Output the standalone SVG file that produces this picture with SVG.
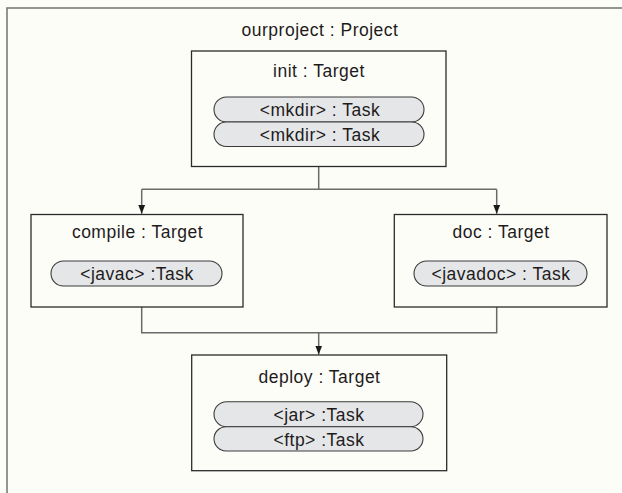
<svg xmlns="http://www.w3.org/2000/svg" width="622" height="493" viewBox="0 0 622 493">
  <style>
    .bg { fill: #fdfdf8; }
    .frame { fill: none; stroke: #7a7a7a; stroke-width: 1.6; }
    .box { fill: #fdfdf8; stroke: #2b2b2b; stroke-width: 1.3; }
    .pill { fill: #e5e6e8; stroke: #3a3a3a; stroke-width: 1.1; }
    .lbl { font-family: "Liberation Sans", Arial, sans-serif; font-size: 17.5px; fill: #1e1b1c; text-anchor: middle; letter-spacing: 0.5px; }
    .wire { fill: none; stroke: #6a6a6a; stroke-width: 1.5; }
  </style>
  <defs>
    <marker id="arrow" markerUnits="userSpaceOnUse" markerWidth="10" markerHeight="10" viewBox="0 0 10 10" refX="9" refY="5" orient="auto">
      <path d="M0,1.5 L9,5 L0,8.5 Z" fill="#1a1a1a"/>
    </marker>
  </defs>

  <rect class="bg" x="0" y="0" width="622" height="493"/>

  <!-- project frame (continues past the page edge) -->
  <g id="project">
    <rect class="frame" x="7" y="8" width="640" height="500"/>
    <text class="lbl" x="320" y="36">ourproject : Project</text>
  </g>

  <!-- dependency wires -->
  <g id="connectors">
    <path class="wire" d="M318.7,166.5 V189.3"/>
    <path class="wire" d="M141.7,189.3 H496.7"/>
    <path class="wire" d="M141.7,189.3 V213.8" marker-end="url(#arrow)"/>
    <path class="wire" d="M496.7,189.3 V213.8" marker-end="url(#arrow)"/>
    <path class="wire" d="M141.7,307 V332.7 H496.7 V307"/>
    <path class="wire" d="M318.7,332.7 V354.5" marker-end="url(#arrow)"/>
  </g>

  <g id="init">
    <rect class="box" x="191.5" y="51" width="254.5" height="115.5"/>
    <text class="lbl" x="319" y="77">init : Target</text>
    <rect class="pill" x="214" y="97" width="210" height="25" rx="12.5"/>
    <text class="lbl" x="320" y="116">&lt;mkdir&gt; : Task</text>
    <rect class="pill" x="214" y="122" width="210" height="24.5" rx="12.25"/>
    <text class="lbl" x="320" y="141">&lt;mkdir&gt; : Task</text>
  </g>

  <g id="compile">
    <rect class="box" x="31" y="214.5" width="212" height="92.5"/>
    <text class="lbl" x="137.5" y="238">compile : Target</text>
    <rect class="pill" x="51" y="261" width="171" height="25" rx="12.5"/>
    <text class="lbl" x="137" y="280">&lt;javac&gt; :Task</text>
  </g>

  <g id="doc">
    <rect class="box" x="394.3" y="214.5" width="212.7" height="92.5"/>
    <text class="lbl" x="501" y="238">doc : Target</text>
    <rect class="pill" x="414" y="261" width="173" height="25" rx="12.5"/>
    <text class="lbl" x="501" y="280">&lt;javadoc&gt; : Task</text>
  </g>

  <g id="deploy">
    <rect class="box" x="191.7" y="355" width="255" height="115.7"/>
    <text class="lbl" x="319.5" y="383">deploy : Target</text>
    <rect class="pill" x="214" y="401.7" width="209" height="25" rx="12.5"/>
    <text class="lbl" x="319" y="421">&lt;jar&gt; :Task</text>
    <rect class="pill" x="214" y="426.7" width="209" height="24.3" rx="12.15"/>
    <text class="lbl" x="319" y="445.5">&lt;ftp&gt; :Task</text>
  </g>
</svg>
